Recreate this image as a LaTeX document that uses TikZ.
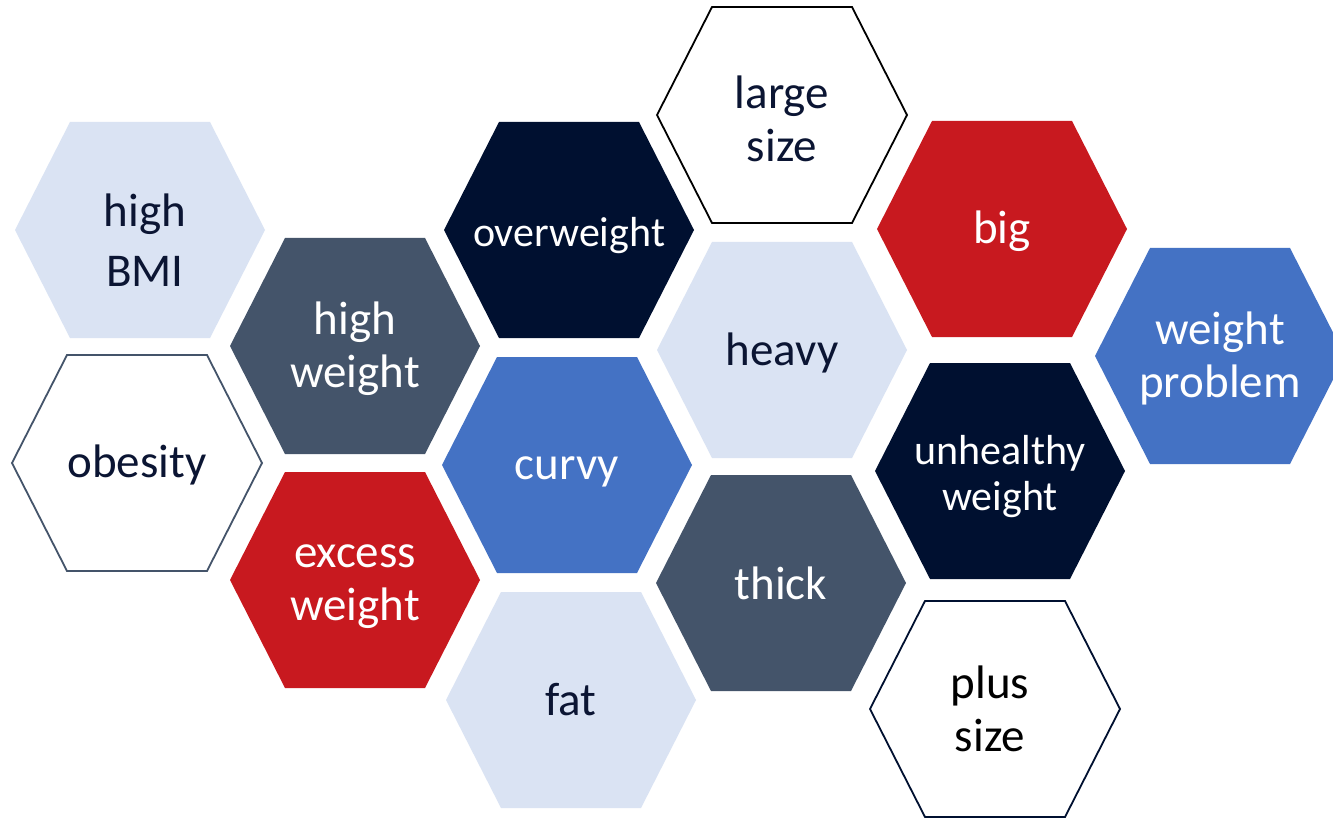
\documentclass[tikz,border=0pt]{standalone}
\usepackage{fontspec}
\setmainfont{Carlito}
\definecolor{lightb}{HTML}{DAE3F3}
\definecolor{slate}{HTML}{44546A}
\definecolor{redc}{HTML}{C8191F}
\definecolor{navy}{HTML}{001030}
\definecolor{blue}{HTML}{4472C4}
\definecolor{txtnavy}{HTML}{0B1533}
\newcommand\hexpath[3]{\path[#3] (#1-125,#2) -- (#1-70,#2-108) -- (#1+70,#2-108) -- (#1+125,#2) -- (#1+70,#2+108) -- (#1-70,#2+108) -- cycle;}
\tikzset{
  lbl/.style={align=center, font=\fontsize{47}{53}\selectfont, inner sep=0pt},
  onlight/.style={lbl, text=txtnavy},
  ondark/.style={lbl, text=white},
}
\begin{document}
\begin{tikzpicture}[x=1pt,y=-1pt]
\useasboundingbox (0,0) rectangle (1333,818);
\clip (0,0) rectangle (1333,818);
\fill[white] (0,0) rectangle (1333,818);
% hexagons
\hexpath{140}{230}{fill=lightb}
\hexpath{137}{463}{draw=slate, line width=1.8pt, fill=white}
\hexpath{355}{346}{fill=slate}
\hexpath{355}{580}{fill=redc}
\hexpath{569}{230}{fill=navy}
\hexpath{567}{465}{fill=blue}
\hexpath{571}{700}{fill=lightb}
\hexpath{782}{115}{draw=black, line width=1.8pt, fill=white}
\hexpath{782}{350}{fill=lightb}
\hexpath{781}{583}{fill=slate}
\hexpath{1002}{229}{fill=redc}
\hexpath{1000}{471}{fill=navy}
\hexpath{995}{709}{draw=navy, line width=1.8pt, fill=white}
\hexpath{1220}{356}{fill=blue}
% labels
\node[onlight, font=\fontsize{47}{60}\selectfont] (highbmi) at (145,240) {high\\BMI};
\node[onlight] (obesity) at (137,465) {obesity};
\node[ondark] (highweight) at (355,349) {high\\weight};
\node[ondark] (excess) at (355,587) {excess\\weight};
\node[ondark, font=\fontsize{42}{48}\selectfont] (overweight) at (569,236) {overweight};
\node[ondark] (curvy) at (567,472) {curvy};
\node[onlight] (fat) at (571,700) {fat};
\node[onlight] (large) at (782,119) {large\\size};
\node[onlight] (heavy) at (782,353) {heavy};
\node[ondark] (thick) at (781,583) {thick};
\node[ondark] (big) at (1002,231) {big};
\node[ondark, font=\fontsize{42}{46}\selectfont] (unhealthy) at (1000,477) {unhealthy\\weight};
\node[lbl, text=black] (plus) at (990,709) {plus\\size};
\node[ondark] (problem) at (1220,358) {weight\\problem};
\end{tikzpicture}
\end{document}
